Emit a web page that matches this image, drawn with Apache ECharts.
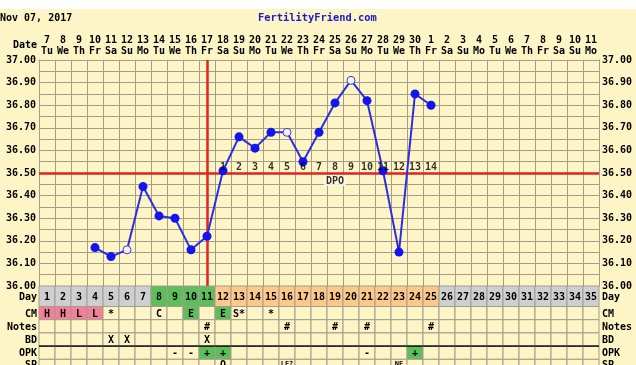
<!DOCTYPE html>
<html><head><meta charset="utf-8">
<script src="https://cdn.jsdelivr.net/npm/echarts@6/dist/echarts.min.js"></script>
<style>
html,body{margin:0;padding:0;background:#ffffff;}
#bg{position:absolute;left:0;top:9px;width:636px;height:356px;background:#fdf5c6;}
#chart{position:absolute;left:0;top:0;width:636px;height:365px;}
</style></head><body><div id="bg"></div><div id="chart"></div>
<script>
// ---------- DATA ----------
const chartDate = 'Nov 07, 2017';
const siteName = 'FertilityFriend.com';
const cycleDays = ['1','2','3','4','5','6','7','8','9','10','11','12','13','14','15','16','17','18','19','20','21','22','23','24','25','26','27','28','29','30','31','32','33','34','35'];
const dates = ['7','8','9','10','11','12','13','14','15','16','17','18','19','20','21','22','23','24','25','26','27','28','29','30','1','2','3','4','5','6','7','8','9','10','11'];
const weekdays = ['Tu','We','Th','Fr','Sa','Su','Mo','Tu','We','Th','Fr','Sa','Su','Mo','Tu','We','Th','Fr','Sa','Su','Mo','Tu','We','Th','Fr','Sa','Su','Mo','Tu','We','Th','Fr','Sa','Su','Mo'];
const temps = [null,null,null,36.17,36.13,36.16,36.44,36.31,36.30,36.16,36.22,36.51,36.66,36.61,36.68,36.68,36.55,36.68,36.81,36.91,36.82,36.51,36.15,36.85,36.80,null,null,null,null,null,null,null,null,null,null];
const openTempDays = ['6','16','20'];
const coverline = 36.50;
const ovulationDay = '11';
const dpoDays = ['12','13','14','15','16','17','18','19','20','21','22','23','24','25'];
const dpoLabels = ['1','2','3','4','5','6','7','8','9','10','11','12','13','14'];
const dpoTextDay = '19';
const dpoText = 'DPO';
const tempTicks = ['36.00','36.10','36.20','36.30','36.40','36.50','36.60','36.70','36.80','36.90','37.00'];
const rowNames = ['Day','CM','Notes','BD','OPK','SP'];
const dayPhase = ['pre','pre','pre','pre','pre','pre','pre','fertile','fertile','fertile','fertile','luteal','luteal','luteal','luteal','luteal','luteal','luteal','luteal','luteal','luteal','luteal','luteal','luteal','luteal','future','future','future','future','future','future','future','future','future','future'];
const cmRow    = ['H','H','L','L','*','','','C','','E','','E','S*','','*','','','','','','','','','','','','','','','','','','','',''];
const cmKind   = ['men','men','men','men','','','','','','egg','','egg','','','','','','','','','','','','','','','','','','','','','','',''];
const notesRow = ['','','','','','','','','','','#','','','','','#','','','#','','#','','','','#','','','','','','','','','',''];
const bdRow    = ['','','','','X','X','','','','','X','','','','','','','','','','','','','','','','','','','','','','','',''];
const opkRow   = ['','','','','','','','','-','-','+','+','','','','','','','','','-','','','+','','','','','','','','','','',''];
const spRow    = ['','','','','','','','','','','','O','','','','LE?','','','','','','','NE','','','','','','','','','','','',''];

// ---------- STYLE / LAYOUT ----------
const FONT = 'DejaVu Sans Mono';
const gridColor = '#a39d8a';
const phaseColor = {pre:'#cfcfcf', fertile:'#5cbf5c', luteal:'#fcc98a', future:'#cfcfcf'};
const kindColor = {men:'#f47f98', egg:'#5cbf5c', pos:'#5cbf5c'};
const cellBg = '#fdf5c6';
const rowEdges = [0, 20.5, 33.7, 46.9, 60.1, 73.3, 86.5];
const PLOT_L = 39, PLOT_W = 560, PLOT_T = 60, PLOT_H = 226, TABLE_H = 79;

const tableRows = [cycleDays, cmRow, notesRow, bdRow, opkRow, spRow];
const cellData = [];
for (let r = 0; r < tableRows.length; r++) {
  for (let d = 0; d < cycleDays.length; d++) {
    cellData.push([cycleDays[d], r, d]);
  }
}
function cellFill(r, d) {
  if (r === 0) return phaseColor[dayPhase[d]];
  if (r === 1 && cmKind[d]) return kindColor[cmKind[d]];
  if (r === 4 && opkRow[d] === '+') return kindColor.pos;
  return cellBg;
}

const lineData = temps.map((v, i) => {
  if (v === null) return null;
  if (openTempDays.indexOf(cycleDays[i]) >= 0) {
    return {value: v, symbol: 'circle', symbolSize: 8,
      itemStyle: {color: '#f6f2f0', borderColor: '#3a3ae6', borderWidth: 1}};
  }
  return {value: v, symbol: 'circle', symbolSize: 9, itemStyle: {color: '#1414ee', borderWidth: 0}};
});

const chart = echarts.init(document.getElementById('chart'), null, {renderer: 'canvas'});
const labelFont = {fontFamily: FONT, fontWeight: 'bold', fontSize: 10, color: '#000'};

chart.setOption({
  backgroundColor: 'transparent',
  animation: false,
  title: [
    {text: chartDate, left: 0, top: 13, padding: 0, textStyle: {fontFamily: FONT, fontWeight: 'bold', fontSize: 10, color: '#000'}},
    {text: siteName, left: 258, top: 13, padding: 0, textStyle: {fontFamily: FONT, fontWeight: 'bold', fontSize: 10.4, color: '#1a1acc'}},
    {text: 'Date', right: 599, top: 40, padding: 0, textStyle: {fontFamily: FONT, fontWeight: 'bold', fontSize: 10, color: '#000'}}
  ],
  grid: [
    {left: PLOT_L, width: PLOT_W, top: PLOT_T, height: PLOT_H},
    {left: PLOT_L, width: PLOT_W, top: PLOT_T + PLOT_H, height: TABLE_H}
  ],
  xAxis: [
    {type: 'category', gridIndex: 0, data: cycleDays, position: 'top', boundaryGap: true,
     axisTick: {show: false}, axisLine: {show: true, lineStyle: {color: gridColor, width: 1}},
     splitLine: {show: true, lineStyle: {color: gridColor, width: 1}},
     axisLabel: {interval: 0, margin: 3, lineHeight: 11, fontFamily: FONT, fontWeight: 'bold', fontSize: 10, color: '#000',
       formatter: (v, i) => dates[i] + '\n' + weekdays[i]}},
    {type: 'category', gridIndex: 1, data: cycleDays, boundaryGap: true, show: false}
  ],
  yAxis: [
    {type: 'value', gridIndex: 0, min: 36, max: 37, interval: 0.05, position: 'left',
     axisLine: {show: true, lineStyle: {color: gridColor}}, axisTick: {show: false},
     splitLine: {show: true, lineStyle: {color: gridColor, width: 1}},
     axisLabel: Object.assign({margin: 3, formatter: v => { const s = v.toFixed(2); return tempTicks.indexOf(s) >= 0 ? s : ''; }}, labelFont)},
    {type: 'value', gridIndex: 0, min: 36, max: 37, interval: 0.05, position: 'right',
     axisLine: {show: true, lineStyle: {color: gridColor}}, axisTick: {show: false}, splitLine: {show: false},
     axisLabel: Object.assign({margin: 3, formatter: v => { const s = v.toFixed(2); return tempTicks.indexOf(s) >= 0 ? s : ''; }}, labelFont)},
    {type: 'value', gridIndex: 1, min: 0, max: TABLE_H, inverse: true, show: false}
  ],
  series: [
    {
      type: 'custom', xAxisIndex: 1, yAxisIndex: 2, silent: true, z: 1,
      data: cellData,
      renderItem: (params, api) => {
        const di = api.value(0), r = api.value(1), d = api.value(2);
        const w = api.size([1, 0])[0];
        const c = api.coord([di, rowEdges[r]]);
        const c2 = api.coord([di, rowEdges[r + 1]]);
        const x = c[0] - w / 2, y = c[1], h = c2[1] - c[1];
        const txt = tableRows[r][d];
        const children = [{
          type: 'rect', shape: {x: x, y: y, width: w, height: h},
          style: {fill: cellFill(r, d), stroke: gridColor, lineWidth: 1}
        }];
        if (r === 4) {
          children.push({type: 'line', shape: {x1: x, y1: y, x2: x + w, y2: y}, style: {stroke: '#111', lineWidth: 1.5}});
        }
        if (txt) {
          const small = r === 5 && txt.length > 1;
          children.push({type: 'text', style: {
            text: txt, x: c[0], y: r === 5 ? y + 1 : y + h / 2 + 1, align: 'center', verticalAlign: r === 5 ? 'top' : 'middle',
            font: 'bold ' + (small ? 7 : 10) + 'px "' + FONT + '"', fill: '#000'}});
        }
        return {type: 'group', children: children};
      }
    },
    {
      type: 'custom', xAxisIndex: 1, yAxisIndex: 2, silent: true, z: 2,
      data: rowNames.map((n, r) => [cycleDays[0], r]),
      renderItem: (params, api) => {
        const r = api.value(1);
        const w = api.size([1, 0])[0];
        const a = api.coord([0, (rowEdges[r] + rowEdges[r + 1]) / 2]);
        const b = api.coord([cycleDays.length - 1, (rowEdges[r] + rowEdges[r + 1]) / 2]);
        const yy = r === 5 ? api.coord([0, rowEdges[r]])[1] + 1 : a[1] + 1;
        const va = r === 5 ? 'top' : 'middle';
        const font = 'bold 10px "' + FONT + '"';
        return {type: 'group', children: [
          {type: 'text', style: {text: rowNames[r], x: a[0] - w / 2 - 2, y: yy, align: 'right', verticalAlign: va, font: font, fill: '#000'}},
          {type: 'text', style: {text: rowNames[r], x: b[0] + w / 2 + 3, y: yy, align: 'left', verticalAlign: va, font: font, fill: '#000'}}
        ]};
      }
    },
    {
      type: 'line', xAxisIndex: 0, yAxisIndex: 0, z: 5,
      data: lineData,
      lineStyle: {color: '#2e2ee0', width: 2},
      markLine: {
        silent: true, symbol: 'none', label: {show: false},
        lineStyle: {color: '#e02222', width: 2.5, type: 'solid'},
        data: [{yAxis: coverline}, {xAxis: ovulationDay}]
      }
    },
    {
      type: 'scatter', xAxisIndex: 0, yAxisIndex: 0, z: 8, symbolSize: 0, silent: true,
      data: dpoDays.map((d, i) => ({value: [d, coverline], name: dpoLabels[i]})),
      label: {show: true, position: 'top', distance: 1, formatter: p => p.name,
        fontFamily: FONT, fontWeight: 'bold', fontSize: 10, color: '#000'}
    },
    {
      type: 'scatter', xAxisIndex: 0, yAxisIndex: 0, z: 8, symbolSize: 0, silent: true,
      data: [{value: [dpoTextDay, coverline], name: dpoText}],
      label: {show: true, position: 'bottom', distance: 2, formatter: p => p.name,
        fontFamily: FONT, fontWeight: 'bold', fontSize: 10, color: '#000',
        backgroundColor: '#fffbe6', padding: [1, 2, 0, 2]}
    }
  ]
});
</script></body></html>
